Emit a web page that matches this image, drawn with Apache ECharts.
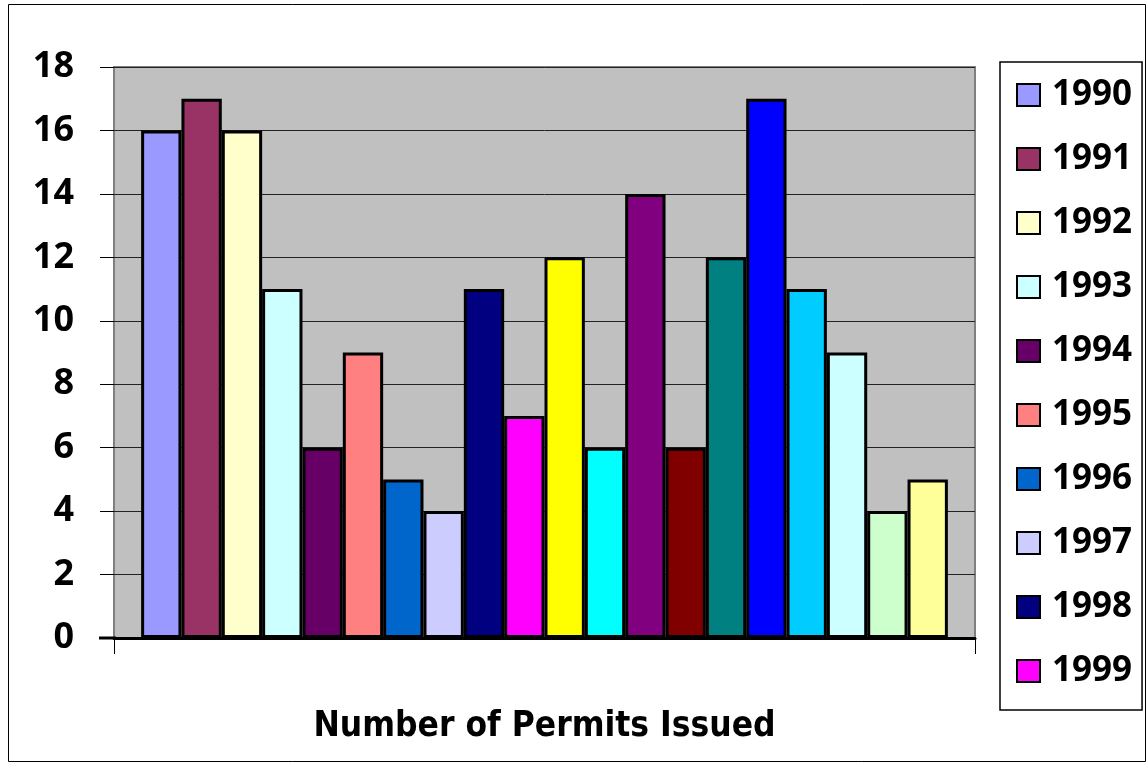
<!DOCTYPE html>
<html>
<head>
<meta charset="utf-8">
<script src="https://cdn.jsdelivr.net/npm/echarts@6/dist/echarts.min.js"></script>
<style>
html,body{margin:0;padding:0;background:#fff;}
#chart{width:1147px;height:765px;}
</style>
</head>
<body>
<div id="chart"></div>
<script>
const years = ['1990','1991','1992','1993','1994','1995','1996','1997','1998','1999',
               '2000','2001','2002','2003','2004','2005','2006','2007','2008','2009'];
const permits = [16,17,16,11,6,9,5,4,11,7,12,6,14,6,12,17,11,9,4,5];
const legendYears = ['1990','1991','1992','1993','1994','1995','1996','1997','1998','1999'];
const yTicks = [0,2,4,6,8,10,12,14,16,18];
const category = ['Number of Permits Issued'];
const palette = ['#9999FF','#993366','#FFFFCC','#CCFFFF','#660066','#FF8080','#0066CC','#CCCCFF','#000080','#FF00FF',
                 '#FFFF00','#00FFFF','#800080','#800000','#008080','#0000FF','#00CCFF','#CCFFFF','#CCFFCC','#FFFF99'];

const chart = echarts.init(document.getElementById('chart'), null, {renderer:'canvas'});

const series = years.map((y, i) => ({
  name: y,
  type: 'bar',
  data: [permits[i]],
  barGap: '0%',
  barCategoryGap: '6.3%',
  itemStyle: { color: palette[i], borderColor: '#000', borderWidth: 3 },
  emphasis: { disabled: true },
  animation: false
}));

chart.setOption({
  animation: false,
  backgroundColor: '#fff',
  graphic: [{
    type: 'rect', shape: { x: 8.5, y: 4.5, width: 1137, height: 757 },
    style: { fill: 'none', stroke: '#000', lineWidth: 1 }, z: 0
  }, {
    type: 'line', shape: { x1: 99, y1: 638, x2: 116, y2: 638 },
    style: { stroke: '#000', lineWidth: 3 }, z: 10
  }],
  grid: {
    left: 114, right: 172, top: 67, bottom: 127,
    show: true, backgroundColor: '#C0C0C0', borderColor: '#808080', borderWidth: 2
  },
  legend: {
    data: legendYears,
    orient: 'vertical',
    left: 1000, top: 62,
    icon: 'rect',
    itemWidth: 23, itemHeight: 22,
    itemGap: 28,
    padding: [15, 10, 21, 16],
    borderColor: '#000', borderWidth: 1.5,
    backgroundColor: '#fff',
    itemStyle: { borderColor: '#000', borderWidth: 2 },
    textStyle: { fontFamily: 'Open Sans', fontWeight: 'bold', fontSize: 35, color: '#000', lineHeight: 36, padding: [0,0,0,7] },
    selectedMode: false
  },
  xAxis: {
    type: 'category',
    data: category,
    name: category[0],
    nameLocation: 'middle',
    nameGap: 71,
    nameTextStyle: { fontFamily: 'Liberation Sans Narrow, DejaVu Sans Condensed, sans-serif', fontWeight: 'bold', fontSize: 35, color: '#000' },
    axisLine: { lineStyle: { color: '#000', width: 3 } },
    axisTick: { show: true, length: 16, lineStyle: { color: '#000', width: 1 } },
    axisLabel: { show: false },
    splitLine: { show: false }
  },
  yAxis: {
    type: 'value',
    min: yTicks[0], max: yTicks[yTicks.length-1], interval: yTicks[1]-yTicks[0],
    axisLine: { show: false },
    axisTick: { show: true, length: 14, lineStyle: { color: '#000', width: 1 } },
    axisLabel: { margin: 40, fontFamily: 'Open Sans', fontWeight: 'bold', fontSize: 36, color: '#000' },
    splitLine: { show: true, lineStyle: { color: '#222', width: 1 } }
  },
  series: series
});
</script>
</body>
</html>
